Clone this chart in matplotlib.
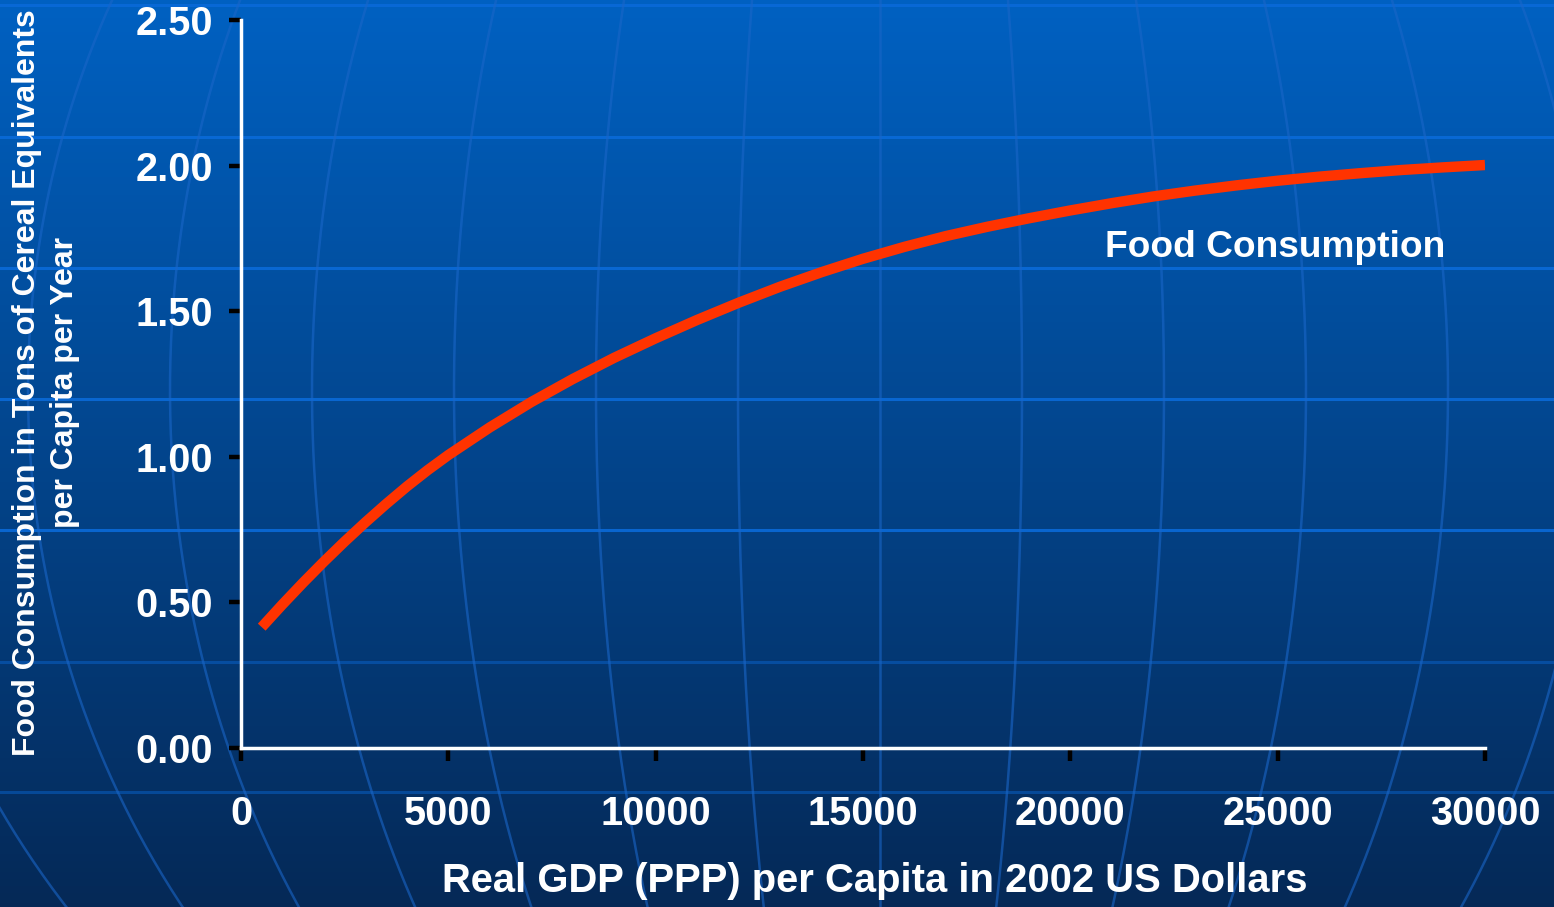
import numpy as np
import matplotlib.pyplot as plt

# dados (PIB real per capita x consumo de alimentos)
gdp = [500, 1000, 1500, 2000, 2500, 3000, 3500, 4000, 4500, 5000,
       6000, 7000, 8000, 9000, 10000, 11000, 12000, 13000, 14000, 15000,
       16000, 17000, 18000, 19000, 20000, 21000, 22000, 23000, 24000, 25000,
       26000, 27000, 28000, 29000, 30000]
consumo = [0.415, 0.493, 0.568, 0.640, 0.709, 0.775, 0.838, 0.898, 0.954, 1.006,
           1.101, 1.188, 1.267, 1.340, 1.407, 1.470, 1.529, 1.584, 1.634, 1.680,
           1.721, 1.758, 1.790, 1.819, 1.846, 1.871, 1.894, 1.914, 1.932, 1.948,
           1.962, 1.974, 1.985, 1.994, 2.002]

xticks = [0, 5000, 10000, 15000, 20000, 25000, 30000]
yticks = [0.0, 0.5, 1.0, 1.5, 2.0, 2.5]

serie_label = "Food Consumption"
xlabel = "Real GDP (PPP) per Capita in 2002 US Dollars"
ylabel = "Food Consumption in Tons of Cereal Equivalents\nper Capita per Year"

plt.rcParams['font.family'] = ['Liberation Sans', 'DejaVu Sans']
plt.rcParams['font.weight'] = 'bold'

W, H = 1554, 907
fig = plt.figure(figsize=(W / 100, H / 100), dpi=100)

# fundo: degrade azul com linhas de "globo"
bg = fig.add_axes([0, 0, 1, 1], zorder=0)
bg.set_xlim(0, W)
bg.set_ylim(H, 0)
bg.axis('off')
topo = np.array([0.0, 0.38, 0.76])
base = np.array([0.02, 0.16, 0.34])
t = np.linspace(0, 1, 256)[:, None]
grad = (topo[None, :] * (1 - t) + base[None, :] * t)[:, None, :]
bg.imshow(grad, extent=[0, W, H, 0], aspect='auto', zorder=0)

for yl in [5, 137, 268, 399, 530, 662, 792]:
    a = 0.9 if yl < 600 else 0.45
    bg.axhline(yl, color='#0a6ad8', lw=2.2, alpha=a, zorder=1)

yy = np.linspace(0, H, 200)
s = 142 * np.sqrt(np.clip(1 - ((yy - 390) / 900.0) ** 2, 0, 1))
for k in range(-7, 7):
    bg.plot(880 + k * s, yy, color='#1a66c8', lw=1.8, alpha=0.6, zorder=1)

# grafico principal
ax = fig.add_axes([241 / W, 1 - 748 / H, (1485 - 241) / W, (748 - 20) / H], zorder=2)
ax.patch.set_alpha(0)
ax.plot(gdp, consumo, color='#ff3300', lw=7.5, solid_capstyle='butt',
        solid_joinstyle='round', zorder=3)
ax.set_xlim(0, 30000)
ax.set_ylim(0, 2.5)
ax.set_xticks(xticks)
ax.set_yticks(yticks)
ax.set_xticklabels([str(v) for v in xticks])
ax.set_yticklabels(["%.2f" % v for v in yticks])

for lado in ['top', 'right']:
    ax.spines[lado].set_visible(False)
for lado in ['left', 'bottom']:
    ax.spines[lado].set_color('white')
    ax.spines[lado].set_linewidth(2.5)

ax.tick_params(axis='both', colors='black', width=3.2, length=9, direction='out',
               labelcolor='white', labelsize=28.5)
ax.tick_params(axis='x', pad=25)
ax.tick_params(axis='y', pad=11)
for lbl in ax.get_xticklabels() + ax.get_yticklabels():
    lbl.set_fontweight('bold')

ax.text(24930, 1.72, serie_label, color='white', fontsize=26.7, fontweight='bold',
        ha='center', va='center')

fig.text(875 / W, 1 - 881 / H, xlabel, color='white', fontsize=28.8,
         fontweight='bold', ha='center', va='center')
fig.text(46 / W, 1 - 383 / H, ylabel, color='white', fontsize=23,
         fontweight='bold', ha='center', va='center', rotation=90,
         multialignment='center', linespacing=1.34)

fig.savefig('out.png', dpi=100)
